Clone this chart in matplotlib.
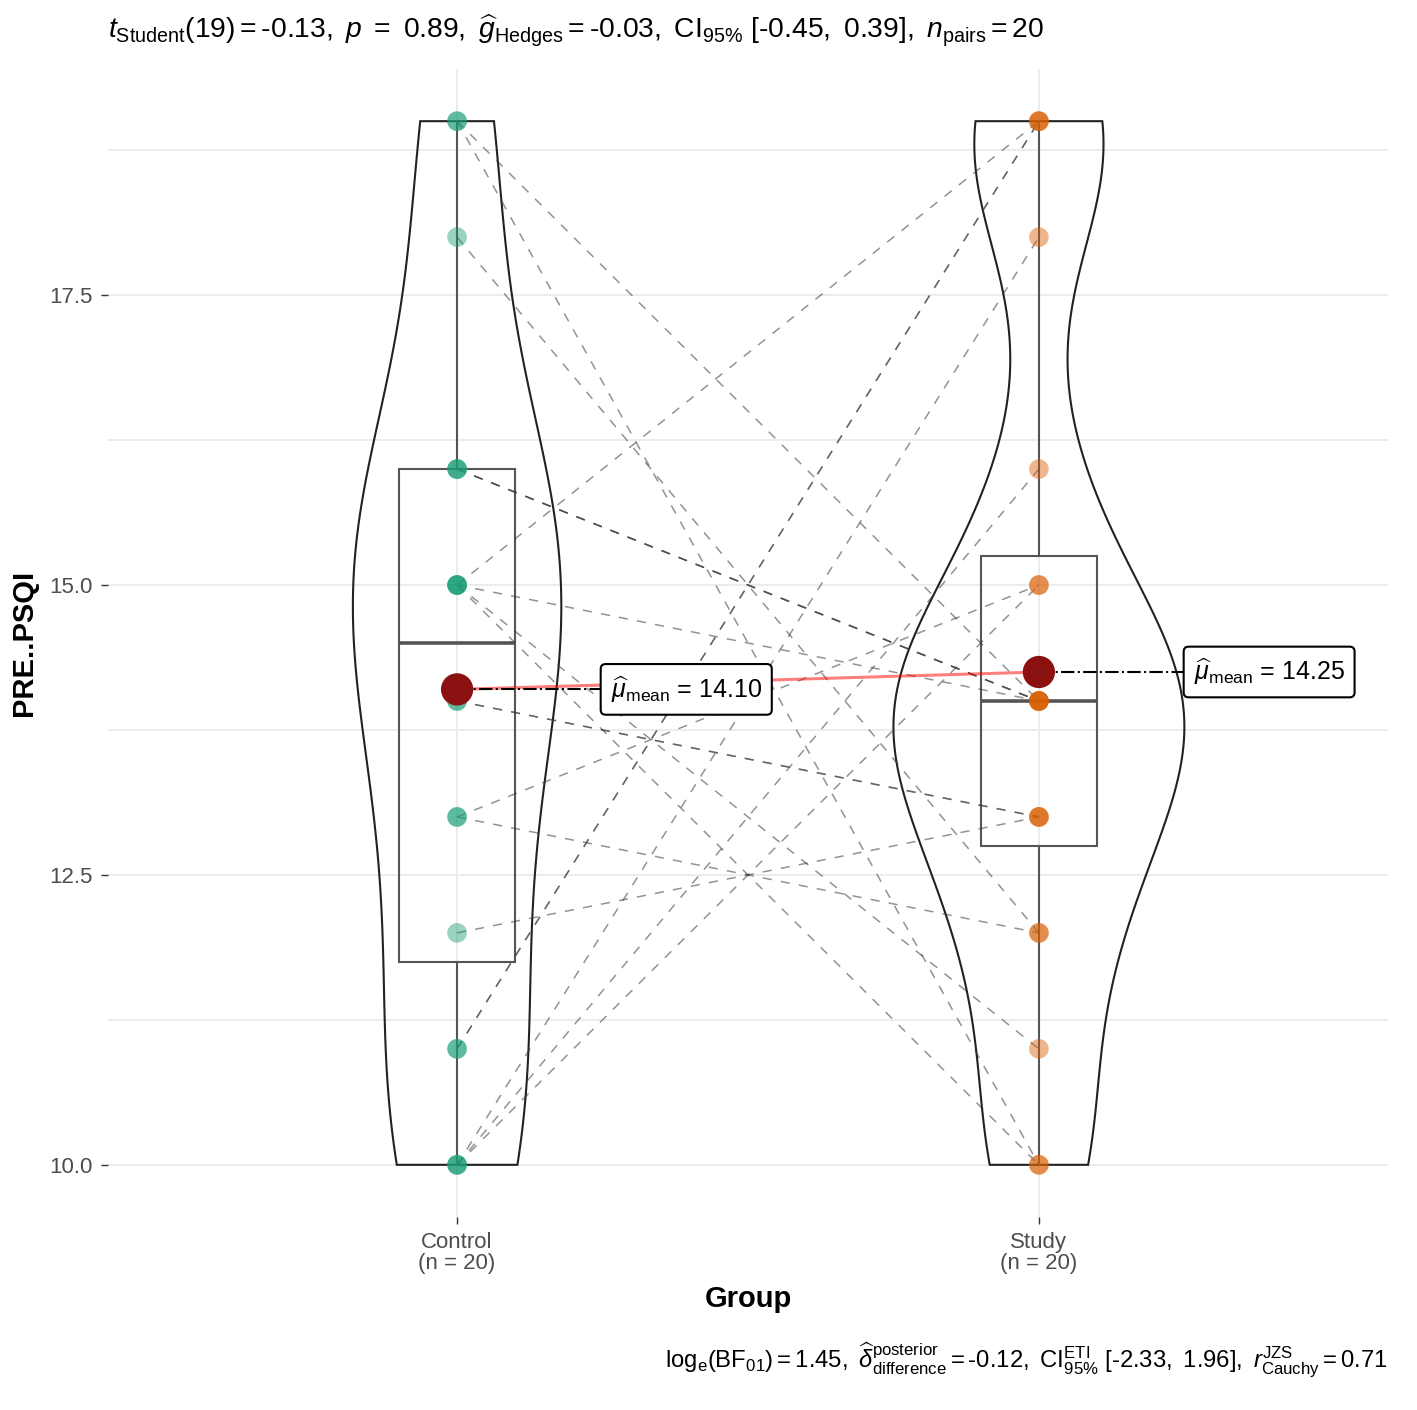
import numpy as np
import matplotlib
matplotlib.use('Agg')
import matplotlib.pyplot as plt
from matplotlib.patches import Polygon, Rectangle

plt.rcParams['font.family'] = ['Liberation Sans', 'DejaVu Sans']
plt.rcParams['mathtext.fontset'] = 'custom'
plt.rcParams['mathtext.rm'] = 'Liberation Sans'
plt.rcParams['mathtext.it'] = 'Liberation Sans:italic'
plt.rcParams['mathtext.bf'] = 'Liberation Sans:bold'

# ---- data (paired, same order) ----
groups = ['Control', 'Study']
control = [19, 19, 18, 16, 16, 16, 15, 15, 15, 15, 14, 14, 13, 13, 12, 11, 11, 10, 10, 10]
study = [14, 10, 12, 14, 14, 14, 19, 14, 11, 10, 13, 13, 15, 12, 13, 19, 19, 15, 16, 18]
point_colors = ['#1B9E77', '#D95F02']
yticks = [10.0, 12.5, 15.0, 17.5]
title = (r'$\mathit{t}_{\mathrm{Student}}(19) = \text{-0.13},\ \mathit{p}\ =\ 0.89,\ '
         r'\widehat{\mathit{g}}_{\mathrm{Hedges}} = \text{-0.03},\ \mathrm{CI}_{95\%}\ [\text{-0.45},\ 0.39],\ '
         r'\mathit{n}_{\mathrm{pairs}} = 20$')
caption = (r'$\mathrm{log}_{\mathrm{e}}(\mathrm{BF}_{01}) = 1.45,\ '
           r'\widehat{\delta}_{\mathrm{difference}}^{\mathrm{posterior}} = \text{-0.12},\ '
           r'\mathrm{CI}_{95\%}^{\mathrm{ETI}}\ [\text{-2.33},\ 1.96],\ '
           r'\mathit{r}_{\mathrm{Cauchy}}^{\mathrm{JZS}} = 0.71$')

data = [np.array(control, float), np.array(study, float)]
xs = [1, 2]

W, H = 1417, 1410
fig = plt.figure(figsize=(W / 100, H / 100), dpi=100)
ax = fig.add_axes([108 / W, 1 - 1217 / H, (1388 - 108) / W, (1217 - 69) / H])
ax.set_xlim(0.4, 2.6)
ax.set_ylim(9.55, 19.45)
for s in ax.spines.values():
    s.set_visible(False)

# grid
for y in np.arange(10, 19.5, 1.25):
    ax.axhline(y, color='#EBEBEB', lw=1.3, zorder=0)
for x in xs:
    ax.axvline(x, color='#EBEBEB', lw=1.3, zorder=0)


def kde(v):
    n = len(v)
    sd = v.std(ddof=1)
    q75, q25 = np.percentile(v, [75, 25])
    bw = 0.9 * min(sd, (q75 - q25) / 1.34) * n ** -0.2
    ys = np.linspace(v.min(), v.max(), 512)
    d = np.exp(-0.5 * ((ys[:, None] - v[None, :]) / bw) ** 2).sum(1) / (n * bw * np.sqrt(2 * np.pi))
    return ys, d


dens = [kde(v) for v in data]
dmax = max(d.max() for _, d in dens)
for x, (ys, d) in zip(xs, dens):
    w = d / dmax * 0.25
    verts = np.concatenate([np.column_stack([x - w, ys]), np.column_stack([x + w, ys])[::-1]])
    ax.add_patch(Polygon(verts, closed=True, facecolor='none', edgecolor='#222222', lw=1.5, zorder=2))

# boxplots
for x, v in zip(xs, data):
    q1, med, q3 = np.percentile(v, [25, 50, 75])
    iqr = q3 - q1
    lo = v[v >= q1 - 1.5 * iqr].min()
    hi = v[v <= q3 + 1.5 * iqr].max()
    ax.add_patch(Rectangle((x - 0.1, q1), 0.2, q3 - q1, facecolor='none', edgecolor='#555555', lw=1.5, zorder=3))
    ax.plot([x - 0.1, x + 0.1], [med, med], color='#555555', lw=2.6, zorder=3, solid_capstyle='butt')
    ax.plot([x, x], [q3, hi], color='#555555', lw=1.5, zorder=3)
    ax.plot([x, x], [lo, q1], color='#555555', lw=1.5, zorder=3)

# paired lines
for c, s in zip(control, study):
    ax.plot([1, 2], [c, s], color='#3A3A3A', alpha=0.55, lw=1.1, ls=(0, (6, 6)), zorder=4)

# points
for x, v, col in zip(xs, data, point_colors):
    ax.scatter(np.full(len(v), x), v, s=200, color=col, alpha=0.45, edgecolors='none', zorder=5)

# means
means = [v.mean() for v in data]
ax.plot(xs, means, color='red', alpha=0.5, lw=2.2, zorder=6)
ax.scatter(xs, means, s=540, color='#8B1010', zorder=8, edgecolors='none')
label_x = [1.247, 2.249]
for x, m, lx in zip(xs, means, label_x):
    ax.plot([x, lx], [m, m], color='black', lw=1.5, ls='-.', zorder=7)
    ax.text(lx + 0.017, m, r'$\widehat{\mu}_{\mathrm{mean}}$' + f' = {m:.2f}', fontsize=18,
            ha='left', va='center', zorder=9,
            bbox=dict(boxstyle='round,pad=0.4,rounding_size=0.2', facecolor='white',
                      edgecolor='black', lw=1.5))

ax.set_xticks(xs)
ax.set_xticklabels([f'{g}\n(n = {len(v)})' for g, v in zip(groups, data)],
                   fontsize=16, color='#4D4D4D', linespacing=1.0)
ax.set_yticks(yticks)
ax.set_yticklabels([f'{t:.1f}' for t in yticks], fontsize=16, color='#4D4D4D')
ax.tick_params(axis='both', length=5, width=1, color='#333333', pad=6)
ax.set_xlabel('Group', fontsize=21, fontweight='bold', labelpad=8)
ax.set_ylabel('PRE..PSQI', fontsize=21, fontweight='bold', labelpad=8)

fig.text(108 / W, 1 - 30 / H, title, fontsize=20.3, ha='left', va='center')
fig.text(1388 / W, 1 - 1360 / H, caption, fontsize=17.2, ha='right', va='center')

fig.savefig('out.png', dpi=100)
